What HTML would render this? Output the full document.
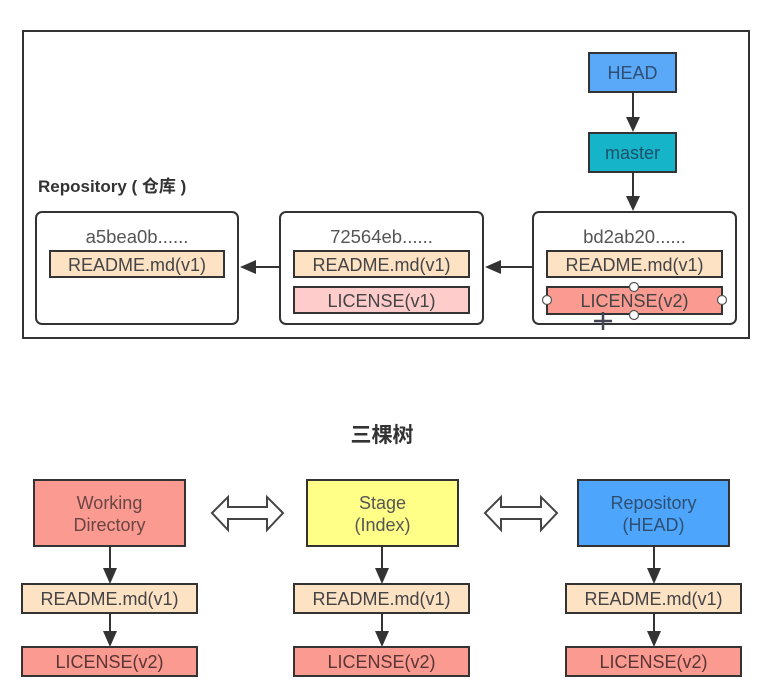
<!DOCTYPE html>
<html><head><meta charset="utf-8"><style>
html,body{margin:0;padding:0;background:#fff;}
svg{display:block;}
text{font-family:"Liberation Sans","Noto Sans CJK SC",sans-serif;}
</style></head><body>
<svg width="784" height="698" viewBox="0 0 784 698" xmlns="http://www.w3.org/2000/svg">
<rect x="0" y="0" width="784" height="698" fill="#fff"/>
<rect x="23" y="31" width="726" height="307" fill="#fff" stroke="#333" stroke-width="2"/>

<rect x="589" y="53" width="87" height="39" fill="#5aa9f8" stroke="#333" stroke-width="2"/>
<text x="632.5" y="79" font-size="18" fill="#2e4f73" text-anchor="middle">HEAD</text>
<line x1="633" y1="92" x2="633" y2="120" stroke="#333" stroke-width="2"/>
<polygon points="626,117 640,117 633,132" fill="#333"/>
<rect x="589" y="133" width="87" height="39" fill="#15b4c9" stroke="#333" stroke-width="2"/>
<text x="632.5" y="159" font-size="18" fill="#1d4e6a" text-anchor="middle">master</text>
<line x1="633" y1="172" x2="633" y2="200" stroke="#333" stroke-width="2"/>
<polygon points="626,196 640,196 633,211" fill="#333"/>

<text x="38" y="192" font-size="17" font-weight="bold" fill="#333">Repository ( 仓库 )</text>

<rect x="36" y="212" width="202" height="112" rx="6" fill="#fff" stroke="#333" stroke-width="2"/>
<text x="137" y="243" font-size="18.5" fill="#555" text-anchor="middle">a5bea0b......</text>
<rect x="50" y="251" width="174" height="26" fill="#fde2c4" stroke="#333" stroke-width="2"/>
<text x="137" y="271" font-size="18" fill="#444" text-anchor="middle">README.md(v1)</text>

<rect x="280" y="212" width="203" height="112" rx="6" fill="#fff" stroke="#333" stroke-width="2"/>
<text x="381.5" y="243" font-size="18.5" fill="#555" text-anchor="middle">72564eb......</text>
<rect x="294" y="251" width="175" height="26" fill="#fde2c4" stroke="#333" stroke-width="2"/>
<text x="381.5" y="271" font-size="18" fill="#444" text-anchor="middle">README.md(v1)</text>
<rect x="294" y="287" width="175" height="26" fill="#ffcccc" stroke="#333" stroke-width="2"/>
<text x="381.5" y="307" font-size="18" fill="#444" text-anchor="middle">LICENSE(v1)</text>

<rect x="533" y="212" width="203" height="112" rx="6" fill="#fff" stroke="#333" stroke-width="2"/>
<text x="634.5" y="243" font-size="18.5" fill="#555" text-anchor="middle">bd2ab20......</text>
<rect x="547" y="251" width="175" height="26" fill="#fde2c4" stroke="#333" stroke-width="2"/>
<text x="634.5" y="271" font-size="18" fill="#444" text-anchor="middle">README.md(v1)</text>
<rect x="547" y="287" width="175" height="27" fill="#fa9a90" stroke="#333" stroke-width="2"/>
<text x="634.5" y="307" font-size="18" fill="#444" text-anchor="middle">LICENSE(v2)</text>
<circle cx="634" cy="287" r="4.5" fill="#fff" stroke="#555" stroke-width="1.2"/>
<circle cx="634" cy="315" r="4.5" fill="#fff" stroke="#555" stroke-width="1.2"/>
<circle cx="547" cy="300" r="4.5" fill="#fff" stroke="#555" stroke-width="1.2"/>
<circle cx="722" cy="300" r="4.5" fill="#fff" stroke="#555" stroke-width="1.2"/>
<path d="M603,312 v18 M594,321 h18" stroke="#445" stroke-width="2.5"/>

<line x1="280" y1="267" x2="250" y2="267" stroke="#333" stroke-width="2"/>
<polygon points="240,267 256,260 256,274" fill="#333"/>
<line x1="533" y1="267" x2="496" y2="267" stroke="#333" stroke-width="2"/>
<polygon points="485,267 501,260 501,274" fill="#333"/>

<text x="382" y="442" font-size="21" font-weight="bold" fill="#333" text-anchor="middle">三棵树</text>

<rect x="34" y="480" width="151" height="66" fill="#fa9a90" stroke="#333" stroke-width="2"/>
<text x="109.5" y="509" font-size="18" fill="#6b4545" text-anchor="middle">Working</text>
<text x="109.5" y="531" font-size="18" fill="#6b4545" text-anchor="middle">Directory</text>
<rect x="307" y="480" width="151" height="66" fill="#ffff88" stroke="#333" stroke-width="2"/>
<text x="382.5" y="509" font-size="18" fill="#555" text-anchor="middle">Stage</text>
<text x="382.5" y="531" font-size="18" fill="#555" text-anchor="middle">(Index)</text>
<rect x="578" y="480" width="151" height="66" fill="#4da6fc" stroke="#333" stroke-width="2"/>
<text x="653.5" y="509" font-size="18" fill="#2e4f73" text-anchor="middle">Repository</text>
<text x="653.5" y="531" font-size="18" fill="#2e4f73" text-anchor="middle">(HEAD)</text>

<polygon points="212,513 228,497 228,507 267,507 267,497 283,513 267,530 267,519 228,519 228,530" fill="#fff" stroke="#444" stroke-width="2"/>
<polygon points="485,513 501,497 501,507 541,507 541,497 557,513 541,530 541,519 501,519 501,530" fill="#fff" stroke="#444" stroke-width="2"/>

<g stroke="#333" stroke-width="2">
<line x1="110" y1="546" x2="110" y2="572"/>
<line x1="110" y1="613" x2="110" y2="636"/>
<line x1="382" y1="546" x2="382" y2="572"/>
<line x1="382" y1="613" x2="382" y2="636"/>
<line x1="654" y1="546" x2="654" y2="572"/>
<line x1="654" y1="613" x2="654" y2="636"/>
</g>
<g fill="#333">
<polygon points="103,568 117,568 110,584"/>
<polygon points="103,631 117,631 110,647"/>
<polygon points="375,568 389,568 382,584"/>
<polygon points="375,631 389,631 382,647"/>
<polygon points="647,568 661,568 654,584"/>
<polygon points="647,631 661,631 654,647"/>
</g>

<rect x="22" y="584" width="175" height="29" fill="#fde2c4" stroke="#333" stroke-width="2"/>
<text x="109.5" y="605" font-size="18" fill="#444" text-anchor="middle">README.md(v1)</text>
<rect x="22" y="647" width="175" height="29" fill="#fa9a90" stroke="#333" stroke-width="2"/>
<text x="109.5" y="668" font-size="18" fill="#5a3535" text-anchor="middle">LICENSE(v2)</text>

<rect x="294" y="584" width="175" height="29" fill="#fde2c4" stroke="#333" stroke-width="2"/>
<text x="381.5" y="605" font-size="18" fill="#444" text-anchor="middle">README.md(v1)</text>
<rect x="294" y="647" width="175" height="29" fill="#fa9a90" stroke="#333" stroke-width="2"/>
<text x="381.5" y="668" font-size="18" fill="#5a3535" text-anchor="middle">LICENSE(v2)</text>

<rect x="566" y="584" width="175" height="29" fill="#fde2c4" stroke="#333" stroke-width="2"/>
<text x="653.5" y="605" font-size="18" fill="#444" text-anchor="middle">README.md(v1)</text>
<rect x="566" y="647" width="175" height="29" fill="#fa9a90" stroke="#333" stroke-width="2"/>
<text x="653.5" y="668" font-size="18" fill="#5a3535" text-anchor="middle">LICENSE(v2)</text>
</svg>
</body></html>
